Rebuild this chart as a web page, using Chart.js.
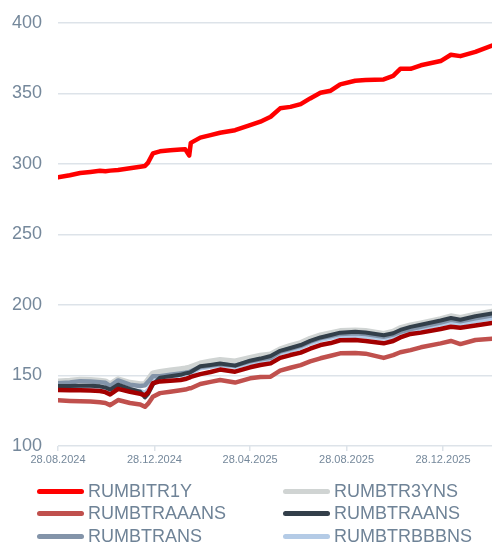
<!DOCTYPE html>
<html><head><meta charset="utf-8">
<script src="https://cdn.jsdelivr.net/npm/chart.js@4.4.1/dist/chart.umd.min.js"></script>
<style>
html,body{margin:0;padding:0;background:#fff;width:492px;height:545px;overflow:hidden;font-family:"Liberation Sans",Arial,sans-serif;}
#wrap{position:relative;width:492px;height:473px;}
#legend{position:absolute;left:0;top:0;width:492px;height:545px;pointer-events:none;}
.item{position:absolute;display:flex;align-items:center;height:24px;font-size:18px;color:#6f8397;white-space:nowrap;}
.swatch{width:47px;height:5px;border-radius:3px;margin-right:4px;}
</style></head><body>
<div id="wrap"><canvas id="c"></canvas></div>
<div id="legend"></div>
<script>
const dates = ['2024-08-28','2024-09-12','2024-09-25','2024-10-08','2024-10-20','2024-10-27','2024-11-02','2024-11-12','2024-11-27','2024-12-10','2024-12-16','2024-12-20','2024-12-26','2025-01-04','2025-01-17','2025-01-30','2025-02-05','2025-02-10','2025-02-12','2025-02-24','2025-03-09','2025-03-21','2025-04-09','2025-04-28','2025-05-11','2025-05-24','2025-06-05','2025-06-18','2025-07-01','2025-07-13','2025-07-26','2025-08-08','2025-08-20','2025-09-08','2025-09-21','2025-10-14','2025-10-26','2025-11-04','2025-11-17','2025-11-30','2025-12-25','2026-01-07','2026-01-19','2026-02-07','2026-02-28'];
const tickLabels = ['28.08.2024','28.12.2024','28.04.2025','28.08.2025','28.12.2025'];
const yTicks = [100,150,200,250,300,350,400];

const RUMBITR1Y = [290.5,292,293.6,294.4,295.2,294.8,295.3,295.8,297,298.1,298.6,301,307.5,309,309.8,310.2,310.4,306,315,318.7,320.5,322.2,324,327.5,330,333.5,339.5,340.5,342.5,346.5,350.5,352,356.5,359,359.5,360,362.5,367.5,367.5,370,373,377.5,376.5,379.5,384];
const RUMBTR3YNS = [145.8,146.3,147,146.8,146.3,145.8,143.8,147.3,144.8,143.8,144,147,151.5,152.5,153.5,154.5,155,155.5,156,158.5,160,161,160,162.5,164,165,168.5,171,173,176,178.5,180,181.5,182,181.5,179.5,181,183.5,185.5,187,190,192,190.8,193.2,195.2];
const RUMBTRAAANS = [132.4,132,131.8,131.5,131,130.5,129,132.6,130.5,129.5,127.8,130,135,137.5,138.5,139.5,140,140.9,141,144,145.5,146.8,145,148,149,149.2,153.5,155.5,157.4,160,162.2,164,165.7,166,165.5,162.5,164.5,166.5,168,170,172.8,174.5,172.3,175.2,176];
const RUMBTRAANS = [142.5,142.5,142.8,142.8,142.3,141.5,140,143.5,140.5,138.5,134.5,137,143.5,148.5,149.5,150.5,151.5,152,152.5,156.5,157.5,158.5,157,160.5,162,163.8,167.5,169.5,171.6,174.5,177,178.7,180.4,181,180.5,178.5,180,182.3,184.5,186,189,190.8,189.5,192,194];
const RUMBTRANS = [144.5,145,146,145.8,145.2,144.8,142.5,146.5,143.5,142.5,143,145.5,149.5,149.5,150.5,151.5,152,152.5,153,156,157,158,157,160,161.5,162.5,167,169,171,174,176.5,178,179.5,180,179.5,177.5,179,181,183,184.5,187.5,189.5,188.5,190.5,192.5];
const RUMBTRBBBNS = [141.5,141.5,141.6,141.5,141,140.5,139,142,140,139,138,140,146,148,149,150,150.5,151,151.5,155,156,157,156,158.5,160,161,165.5,167.5,169.5,172.5,175,176.5,177.5,178,177.5,176,177,179,181.5,183,186,187.5,186.5,188.5,190.5];
const SERIES7 = [139.7,139.5,139.5,139.3,139,138.2,136.5,140.5,138.5,137,136,138,144.5,145.8,146.3,146.8,147.5,148.5,149,151,152.5,154.2,152.7,155.8,157.4,158.6,162.5,164.5,166.2,169,171.6,173,175,175.2,174.5,172.8,174.5,177,179.5,180.4,183,184.6,183.9,185.5,187.3];

const t0 = Date.parse(dates[0] + 'T00:00:00Z');
const dayOf = s => Math.round((Date.parse(s + 'T00:00:00Z') - t0) / 864e5);
const dayOfLabel = l => { const [d,m,y] = l.split('.'); return dayOf(`${y}-${m}-${d}`); };
const xs = dates.map(dayOf);
const tickDays = tickLabels.map(dayOfLabel);
const pts = arr => arr.map((v,i) => ({x: xs[i], y: v}));

const mk = (label, data, color, width, order, legend) => ({
  label, data: pts(data), borderColor: color, backgroundColor: color,
  borderWidth: width, pointRadius: 0, tension: 0, order,
  borderCapStyle: 'round', borderJoinStyle: 'round', fill: false, inLegend: legend
});

const datasets = [
  mk('RUMBITR1Y', RUMBITR1Y, '#ff0000', 4.5, 0, true),
  mk('RUMBTR3YNS', RUMBTR3YNS, '#d0d4d3', 6, 6, true),
  mk('RUMBTRAAANS', RUMBTRAAANS, '#c0504d', 4.5, 5, true),
  mk('RUMBTRAANS', RUMBTRAANS, '#333f4a', 4, 2, true),
  mk('RUMBTRANS', RUMBTRANS, '#8394a9', 4.5, 3, true),
  mk('RUMBTRBBBNS', RUMBTRBBBNS, '#b4cbe6', 4, 4, true),
  mk('', SERIES7, '#a30000', 4.5, 1, false)
];

const tickColor = '#75889b';
const gridColor = '#dde3e9';

const chart = new Chart(document.getElementById('c'), {
  type: 'line',
  data: { datasets },
  options: {
    responsive: true, maintainAspectRatio: false, animation: false,
    layout: { padding: { top: 23, right: 0, left: 0, bottom: 0 } },
    plugins: { legend: { display: false }, tooltip: { enabled: false } },
    scales: {
      x: {
        type: 'linear', min: xs[0], max: xs[xs.length - 1],
        afterBuildTicks: s => { s.ticks = tickDays.map(v => ({ value: v })); },
        afterFit: s => { s.height = 27; s.paddingLeft = 0; s.paddingRight = 0; },
        ticks: {
          autoSkip: false, maxRotation: 0, padding: 2, color: tickColor,
          font: { size: 11, family: '"Liberation Sans", Arial, sans-serif' },
          callback: v => { const i = tickDays.indexOf(v); return i >= 0 ? tickLabels[i] : ''; }
        },
        grid: { drawOnChartArea: false, drawTicks: true, tickLength: 5, color: gridColor, lineWidth: 1.5 },
        border: { display: false }
      },
      y: {
        min: yTicks[0], max: yTicks[yTicks.length - 1],
        afterBuildTicks: s => { s.ticks = yTicks.map(v => ({ value: v })); },
        afterFit: s => { s.width = 58; s.paddingTop = 0; s.paddingBottom = 0; },
        ticks: { padding: 16, color: tickColor, font: { size: 18, family: '"Liberation Sans", Arial, sans-serif' } },
        grid: { drawTicks: false, color: gridColor, lineWidth: 1.5 },
        border: { display: false }
      }
    }
  }
});

// HTML legend in two columns
const legendEl = document.getElementById('legend');
const legendItems = chart.data.datasets.filter(d => d.inLegend);
const colX = [37, 283];
const rowY = [479, 501, 524];
legendItems.forEach((d, i) => {
  const el = document.createElement('div');
  el.className = 'item';
  el.style.left = colX[i % 2] + 'px';
  el.style.top = rowY[Math.floor(i / 2)] + 'px';
  const sw = document.createElement('span');
  sw.className = 'swatch';
  sw.style.background = d.borderColor;
  const tx = document.createElement('span');
  tx.textContent = d.label;
  el.appendChild(sw); el.appendChild(tx);
  legendEl.appendChild(el);
});
</script>
</body></html>
